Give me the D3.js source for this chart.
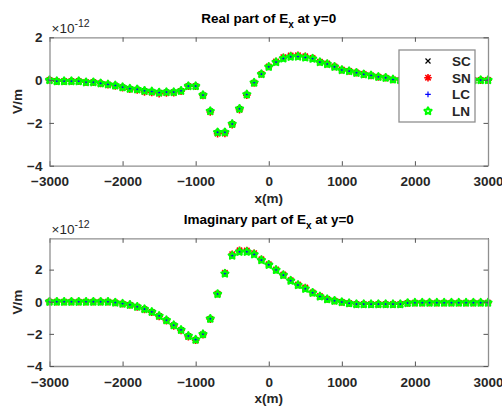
<!DOCTYPE html>
<html>
<head>
<meta charset="utf-8">
<script src="https://cdn.jsdelivr.net/npm/d3@7"></script>
<style>
  body { margin: 0; background: #fff; }
  svg { display: block; font-family: "Liberation Sans", Arial, sans-serif; }
</style>
</head>
<body>
<svg id="chart" width="502" height="410"></svg>
<script>
// Sample positions along the profile (m)
const xPos = [-3000,-2900,-2800,-2700,-2600,-2500,-2400,-2300,-2200,-2100,
  -2000,-1900,-1800,-1700,-1600,-1500,-1400,-1300,-1200,-1100,
  -1000,-900,-800,-700,-600,-500,-400,-300,-200,-100,
  0,100,200,300,400,500,600,700,800,900,
  1000,1100,1200,1300,1400,1500,1600,1700,1800,1900,
  2000,2100,2200,2300,2400,2500,2600,2700,2800,2900,3000];

// Real part of Ex (x1e-12 V/m)
const reSC = [0.00,-0.05,-0.05,-0.05,-0.05,-0.10,-0.10,-0.15,-0.20,-0.25,
  -0.33,-0.40,-0.43,-0.50,-0.53,-0.58,-0.56,-0.56,-0.50,-0.28,
  -0.28,-0.70,-1.45,-2.44,-2.44,-2.05,-1.34,-0.67,-0.12,0.28,
  0.62,0.84,1.01,1.09,1.10,1.06,1.00,0.84,0.75,0.62,
  0.47,0.42,0.34,0.27,0.22,0.15,0.11,0.03,0.00,0.00,
  0.00,0.00,0.00,0.00,0.00,0.00,0.00,0.00,0.00,0.00,0.00];
const reSN = [0.00,-0.05,-0.05,-0.05,-0.05,-0.10,-0.10,-0.16,-0.21,-0.27,
  -0.36,-0.43,-0.46,-0.55,-0.58,-0.63,-0.60,-0.59,-0.52,-0.29,
  -0.29,-0.72,-1.49,-2.50,-2.49,-2.08,-1.38,-0.70,-0.13,0.29,
  0.64,0.87,1.07,1.15,1.16,1.11,1.03,0.86,0.77,0.64,
  0.49,0.43,0.35,0.28,0.22,0.15,0.11,0.03,0.00,0.00,
  0.00,0.00,0.00,0.00,0.00,0.00,0.00,0.00,0.00,0.00,0.00];
const reLC = [0.00,-0.05,-0.05,-0.05,-0.05,-0.10,-0.10,-0.15,-0.20,-0.25,
  -0.33,-0.40,-0.43,-0.50,-0.53,-0.58,-0.56,-0.56,-0.50,-0.28,
  -0.28,-0.70,-1.45,-2.44,-2.44,-2.05,-1.34,-0.67,-0.12,0.28,
  0.62,0.84,1.01,1.09,1.10,1.06,1.00,0.84,0.75,0.62,
  0.47,0.42,0.34,0.27,0.22,0.15,0.11,0.03,0.00,0.00,
  0.00,0.00,0.00,0.00,0.00,0.00,0.00,0.00,0.00,0.00,0.00];
const reLN = [0.00,-0.05,-0.05,-0.05,-0.05,-0.10,-0.10,-0.15,-0.20,-0.25,
  -0.33,-0.40,-0.43,-0.50,-0.53,-0.58,-0.56,-0.56,-0.50,-0.28,
  -0.28,-0.70,-1.45,-2.44,-2.44,-2.05,-1.34,-0.67,-0.12,0.28,
  0.62,0.84,1.01,1.09,1.10,1.06,1.00,0.84,0.75,0.62,
  0.47,0.42,0.34,0.27,0.22,0.15,0.11,0.03,0.00,0.00,
  0.00,0.00,0.00,0.00,0.00,0.00,0.00,0.00,0.00,0.00,0.00];

// Imaginary part of Ex (x1e-12 V/m)
const imSC = [0.00,0.00,0.00,0.00,0.00,0.00,0.00,0.00,0.00,-0.05,
  -0.12,-0.19,-0.31,-0.46,-0.63,-0.88,-1.15,-1.46,-1.75,-2.13,
  -2.36,-2.02,-1.06,0.48,1.75,2.87,3.11,3.11,2.95,2.59,
  2.30,1.98,1.66,1.31,1.04,0.81,0.56,0.33,0.16,0.06,
  -0.02,-0.09,-0.15,-0.15,-0.15,-0.15,-0.15,-0.15,-0.15,-0.08,
  -0.06,-0.06,-0.06,-0.06,-0.06,-0.06,-0.06,-0.06,-0.06,-0.06,-0.06];
const imSN = [0.00,0.00,0.00,0.00,0.00,0.00,0.00,0.00,0.00,-0.05,
  -0.12,-0.20,-0.32,-0.48,-0.65,-0.91,-1.18,-1.50,-1.79,-2.17,
  -2.40,-2.05,-1.08,0.50,1.80,2.96,3.20,3.19,3.02,2.64,
  2.34,2.01,1.69,1.34,1.07,0.88,0.58,0.35,0.17,0.06,
  -0.02,-0.09,-0.15,-0.15,-0.15,-0.15,-0.15,-0.15,-0.15,-0.08,
  -0.06,-0.06,-0.06,-0.06,-0.06,-0.06,-0.06,-0.06,-0.06,-0.06,-0.06];
const imLC = [0.00,0.00,0.00,0.00,0.00,0.00,0.00,0.00,0.00,-0.05,
  -0.12,-0.19,-0.31,-0.46,-0.63,-0.88,-1.15,-1.46,-1.75,-2.13,
  -2.36,-2.02,-1.06,0.48,1.75,2.87,3.11,3.11,2.95,2.59,
  2.30,1.98,1.66,1.31,1.04,0.81,0.56,0.33,0.16,0.06,
  -0.02,-0.09,-0.15,-0.15,-0.15,-0.15,-0.15,-0.15,-0.15,-0.08,
  -0.06,-0.06,-0.06,-0.06,-0.06,-0.06,-0.06,-0.06,-0.06,-0.06,-0.06];
const imLN = [0.00,0.00,0.00,0.00,0.00,0.00,0.00,0.00,0.00,-0.05,
  -0.12,-0.19,-0.31,-0.46,-0.63,-0.88,-1.15,-1.46,-1.75,-2.13,
  -2.36,-2.02,-1.06,0.48,1.75,2.87,3.11,3.11,2.95,2.59,
  2.30,1.98,1.66,1.31,1.04,0.81,0.56,0.33,0.16,0.06,
  -0.02,-0.09,-0.15,-0.15,-0.15,-0.15,-0.15,-0.15,-0.15,-0.08,
  -0.06,-0.06,-0.06,-0.06,-0.06,-0.06,-0.06,-0.06,-0.06,-0.06,-0.06];

const seriesNames = ["SC", "SN", "LC", "LN"];
const xTicks = [-3000, -2000, -1000, 0, 1000, 2000, 3000];
const yTicks = [-4, -2, 0, 2];
const xLabel = "x(m)";
const yLabel = "V/m";

const svg = d3.select("#chart");
const AXIS_COLOR = "#8f8f8f";
const TEXT_COLOR = "#262626";

// Marker shapes, drawn around the origin
function starPath(rOut, rIn) {
  const pts = [];
  for (let i = 0; i < 10; i++) {
    const r = i % 2 === 0 ? rOut : rIn;
    const a = -Math.PI / 2 + i * Math.PI / 5;
    pts.push([r * Math.cos(a), r * Math.sin(a)]);
  }
  return "M" + pts.map(p => p[0].toFixed(2) + "," + p[1].toFixed(2)).join("L") + "Z";
}
const markerStyles = {
  SC: { color: "#000000", path: "M-2.5,-2.5L2.5,2.5M-2.5,2.5L2.5,-2.5", width: 1.2, fill: "none" },
  SN: { color: "#ff0000", path: "M0,-3.8L0,3.8M-3.8,0L3.8,0M-2.7,-2.7L2.7,2.7M-2.7,2.7L2.7,-2.7", width: 1.6, fill: "none" },
  LC: { color: "#0000ff", path: "M0,-2.8L0,2.8M-2.8,0L2.8,0", width: 1.2, fill: "none" },
  LN: { color: "#00ff00", path: starPath(3.7, 1.9), width: 2.2, fill: "none" }
};

function drawMarker(g, name) {
  const s = markerStyles[name];
  g.append("path")
    .attr("d", s.path)
    .attr("fill", s.fill)
    .attr("stroke", s.color)
    .attr("stroke-width", s.width)
    .attr("stroke-linejoin", "round");
}

function panel(cfg) {
  const { left, right, top, bottom, yDomain, title, series } = cfg;
  const x = d3.scaleLinear().domain([-3000, 3000]).range([left, right]);
  const y = d3.scaleLinear().domain(yDomain).range([bottom, top]);

  // Plot area background
  svg.append("rect")
    .attr("x", left).attr("y", top)
    .attr("width", right - left).attr("height", bottom - top)
    .attr("fill", "#fff");

  // Series markers
  const plot = svg.append("g");
  seriesNames.forEach((name, si) => {
    const vals = series[si];
    plot.append("g").selectAll("g")
      .data(xPos.map((xv, i) => [xv, vals[i]]))
      .join("g")
      .attr("transform", d => `translate(${x(d[0])},${y(d[1])})`)
      .each(function () { drawMarker(d3.select(this), name); });
  });

  // Axes with inward ticks on all four sides
  const styleAxis = g => {
    g.select(".domain").attr("stroke", AXIS_COLOR).attr("stroke-width", 1.3);
    g.selectAll(".tick line").attr("stroke", "#555").attr("stroke-width", 1);
    g.selectAll(".tick text")
      .attr("fill", TEXT_COLOR)
      .attr("font-size", 13.5)
      .attr("font-weight", "bold")
      .attr("font-family", "'Liberation Sans', Arial, sans-serif");
  };
  svg.append("g")
    .attr("transform", `translate(0,${bottom})`)
    .call(d3.axisBottom(x).tickValues(xTicks).tickSizeInner(-4.5).tickSizeOuter(0).tickPadding(11).tickFormat(d3.format("d")))
    .call(styleAxis);
  svg.append("g")
    .attr("transform", `translate(0,${top})`)
    .call(d3.axisTop(x).tickValues(xTicks).tickSizeInner(-4.5).tickSizeOuter(0).tickFormat(""))
    .call(styleAxis);
  svg.append("g")
    .attr("transform", `translate(${left},0)`)
    .call(d3.axisLeft(y).tickValues(yTicks).tickSizeInner(-4.5).tickSizeOuter(0).tickPadding(7).tickFormat(d3.format("d")))
    .call(styleAxis);
  svg.append("g")
    .attr("transform", `translate(${right},0)`)
    .call(d3.axisRight(y).tickValues(yTicks).tickSizeInner(-4.5).tickSizeOuter(0).tickFormat(""))
    .call(styleAxis);

  // Exponent multiplier above the y axis
  const mult = svg.append("text")
    .attr("x", left + 2).attr("y", top - 4)
    .attr("fill", TEXT_COLOR)
    .attr("font-size", 13.5);
  mult.append("tspan").text("\u00d710");
  mult.append("tspan").attr("dy", -6).attr("font-size", 10.5).text("-12");

  // Title with subscript
  const t = svg.append("text")
    .attr("x", (left + right) / 2).attr("y", top - 14)
    .attr("text-anchor", "middle")
    .attr("fill", "#000")
    .attr("font-size", 13.5)
    .attr("font-weight", "bold");
  t.append("tspan").text(title + " of E");
  t.append("tspan").attr("dy", 5).attr("font-size", 10).text("x");
  t.append("tspan").attr("dy", -5).text(" at y=0");

  // Axis labels
  svg.append("text")
    .attr("x", (left + right) / 2).attr("y", bottom + 37)
    .attr("text-anchor", "middle")
    .attr("fill", TEXT_COLOR)
    .attr("font-size", 13.5)
    .attr("font-weight", "bold")
    .text(xLabel);
  svg.append("text")
    .attr("transform", `translate(22,${(top + bottom) / 2}) rotate(-90)`)
    .attr("text-anchor", "middle")
    .attr("fill", TEXT_COLOR)
    .attr("font-size", 13.5)
    .attr("font-weight", "bold")
    .text(yLabel);

  return { x, y };
}

panel({
  left: 49.5, right: 488, top: 37.3, bottom: 165.7,
  yDomain: [-4, 2],
  title: "Real part",
  series: [reSC, reSN, reLC, reLN]
});

panel({
  left: 49.5, right: 488, top: 238.3, bottom: 366,
  yDomain: [-4, 3.95],
  title: "Imaginary part",
  series: [imSC, imSN, imLC, imLN]
});

// Legend for the upper panel
const lg = svg.append("g").attr("transform", "translate(399,50)");
lg.append("rect")
  .attr("width", 76).attr("height", 72)
  .attr("fill", "#fff")
  .attr("stroke", AXIS_COLOR)
  .attr("stroke-width", 1.3);
seriesNames.forEach((name, i) => {
  const row = lg.append("g").attr("transform", `translate(0,${11 + i * 16.7})`);
  drawMarker(row.append("g").attr("transform", "translate(29,0)"), name);
  row.append("text")
    .attr("x", 53).attr("y", 5)
    .attr("fill", TEXT_COLOR)
    .attr("font-size", 13.5)
    .attr("font-weight", "bold")
    .text(name);
});
</script>
</body>
</html>
